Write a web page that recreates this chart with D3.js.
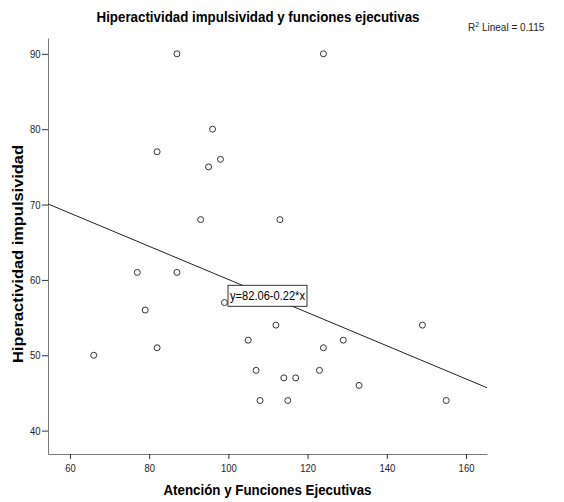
<!DOCTYPE html>
<html><head><meta charset="utf-8">
<script src="https://cdn.jsdelivr.net/npm/d3@7"></script>
<style>body{margin:0;background:#fff}svg{display:block}text{font-family:"Liberation Sans",Arial,sans-serif}</style>
</head><body>
<script>
const xValues = [87,124,96,82,98,95,93,113,77,87,79,99,82,66,112,105,107,114,117,108,115,149,129,124,123,133,155];
const yValues = [90,90,80,77,76,75,68,68,61,61,56,57,51,50,54,52,48,47,47,44,44,54,52,51,48,46,44];
const xTicks = [60,80,100,120,140,160];
const yTicks = [40,50,60,70,80,90];
const fitIntercept = 82.06, fitSlope = -0.22, r2 = 0.115;
const title = "Hiperactividad impulsividad y funciones ejecutivas";
const xTitle = "Atención y Funciones Ejecutivas";
const yTitle = "Hiperactividad impulsividad";

const W = 564, H = 502;
const svg = d3.select("body").append("svg").attr("width", W).attr("height", H);
const x = d3.scaleLinear().domain([54.45, 165.3]).range([48, 487]);
const y = d3.scaleLinear().domain([36.9, 92.1]).range([454, 38]);

function condense(sel, f) {
  sel.each(function () {
    const L = this.getComputedTextLength();
    d3.select(this).attr("textLength", L * f).attr("lengthAdjust", "spacingAndGlyphs");
  });
}

// axes
const gx = svg.append("g").attr("transform", "translate(0,454)")
  .call(d3.axisBottom(x).tickValues(xTicks).tickSize(5).tickPadding(5).tickSizeOuter(0));
const gy = svg.append("g").attr("transform", "translate(48,0)")
  .call(d3.axisLeft(y).tickValues(yTicks).tickSize(6).tickPadding(1.5).tickSizeOuter(0));
[gx, gy].forEach(g => {
  g.select(".domain").attr("stroke", "#7a7a7a");
  g.selectAll(".tick line").attr("stroke", "#333");
  const t = g.selectAll(".tick text").attr("fill", "#222").attr("font-size", 11)
    .style("font-family", '"Liberation Sans",Arial,sans-serif');
  condense(t, 0.86);
});

// fit line
const [x0, x1] = x.domain();
const f = v => fitIntercept + fitSlope * v;
svg.append("line").attr("x1", x(x0)).attr("y1", y(f(x0))).attr("x2", x(x1)).attr("y2", y(f(x1)))
  .attr("stroke", "#222").attr("stroke-width", 1);

// points
svg.append("g").selectAll("circle").data(xValues.map((v, i) => [v, yValues[i]])).join("circle")
  .attr("cx", d => x(d[0])).attr("cy", d => y(d[1])).attr("r", 3)
  .attr("fill", "none").attr("stroke", "#333").attr("stroke-width", 1);

// equation label
const xm = (x0 + x1) / 2;
const lg = svg.append("g").attr("transform", `translate(${x(xm)},${y(f(xm))})`);
lg.append("rect").attr("x", -39.5).attr("y", -10.5).attr("width", 79).attr("height", 21)
  .attr("fill", "#fff").attr("stroke", "#333").attr("stroke-width", 1);
lg.append("text").attr("x", 0).attr("y", 4.5).attr("text-anchor", "middle").attr("font-size", 12)
  .attr("textLength", 75).attr("lengthAdjust", "spacingAndGlyphs")
  .text(`y=${fitIntercept.toFixed(2)}${fitSlope < 0 ? "-" : "+"}${Math.abs(fitSlope).toFixed(2)}*x`);

// title
svg.append("text").attr("x", 258).attr("y", 22).attr("text-anchor", "middle")
  .attr("font-size", 14.5).attr("font-weight", "bold")
  .attr("textLength", 323).attr("lengthAdjust", "spacingAndGlyphs").text(title);

// R2 label
const rt = svg.append("text").attr("x", 468).attr("y", 31).attr("font-size", 10).attr("fill", "#222");
rt.append("tspan").text("R");
rt.append("tspan").attr("dy", -4).attr("font-size", 7).text("2");
rt.append("tspan").attr("dy", 4).text(" Lineal = " + r2.toFixed(3));

// axis titles
svg.append("text").attr("x", 267.5).attr("y", 495).attr("text-anchor", "middle")
  .attr("font-size", 14).attr("font-weight", "bold")
  .attr("textLength", 208).attr("lengthAdjust", "spacingAndGlyphs").text(xTitle);
svg.append("text").attr("transform", "translate(23,254) rotate(-90)").attr("text-anchor", "middle")
  .attr("font-size", 14).attr("font-weight", "bold")
  .attr("textLength", 218).attr("lengthAdjust", "spacingAndGlyphs").text(yTitle);
</script>
</body></html>
